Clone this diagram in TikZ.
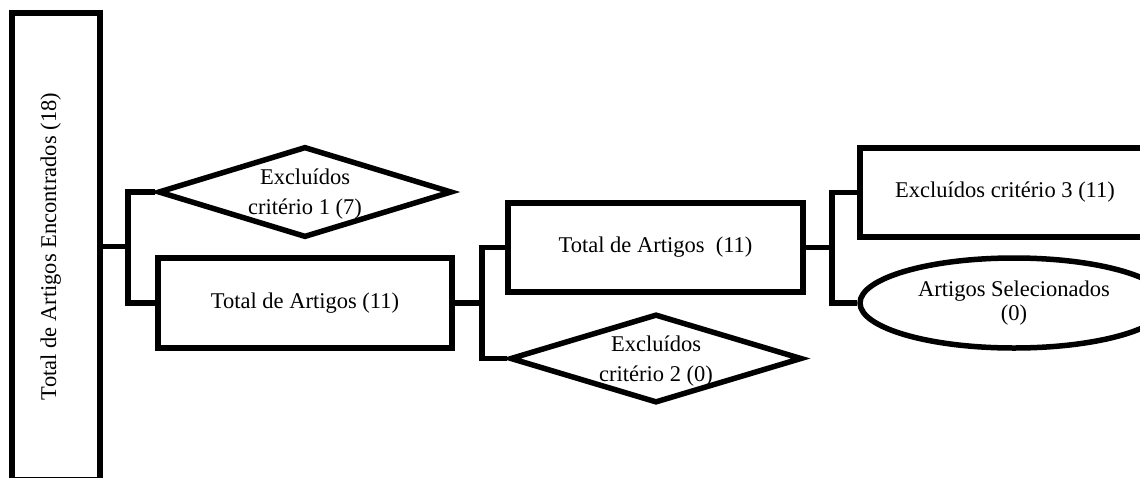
\documentclass[tikz,border=0pt]{standalone}
\usepackage{fontspec}
\setmainfont{Liberation Serif}
\usetikzlibrary{shapes.geometric}
\begin{document}
\begin{tikzpicture}[x=1pt,y=1pt,
  every node/.style={font=\fontsize{22.5}{30}\selectfont},
  box/.style={draw=black, line width=5.5pt, rectangle, inner sep=0pt, align=center},
  dia/.style={draw=black, line width=5.5pt, diamond, inner sep=0pt},
  oval/.style={draw=black, line width=5.5pt, ellipse, inner sep=0pt, align=center, font=\fontsize{22.5}{24}\selectfont},
  txt/.style={align=center, inner sep=0pt},
  link/.style={line width=5.5pt, line join=miter}
]
\useasboundingbox (0,0) rectangle (1140,-477);
\clip (0,0) rectangle (1140,-477);

% left tall box
\node[box, rotate=90, minimum width=467pt, minimum height=88pt, text height=12pt, text depth=12pt] (tot) at (56,-246.5) {Total de Artigos Encontrados (18)};

% first level
\node[dia, minimum width=294pt, minimum height=91pt,
      label={[txt, name=d1t, yshift=-2pt]center:Excluídos\\critério 1 (7)}] (d1) at (305,-192) {};
\node[box, minimum width=294pt, minimum height=90pt] (r1) at (305,-303) {Total de Artigos (11)};
\coordinate (j1) at (128,-246.5);
\draw[link] (tot.south) -- (j1);
\draw[link] (d1.west) -| (j1);
\draw[link] (r1.west) -| (j1);

% second level
\node[box, minimum width=295pt, minimum height=89pt] (r2) at (655.5,-247.5) {Total de Artigos~~(11)};
\node[dia, minimum width=292pt, minimum height=89pt,
      label={[txt, name=d2t, yshift=-3pt]center:Excluídos\\critério 2 (0)}] (d2) at (656,-358.5) {};
\coordinate (j2) at (482,-303);
\draw[link] (r1.east) -- (j2);
\draw[link] (r2.west) -| (j2);
\draw[link] (d2.west) -| (j2);

% third level
\node[box, minimum width=290pt, minimum height=89pt] (r3) at (1005,-192.5) {Excluídos critério 3 (11)};
\node[oval, minimum width=308pt, minimum height=90pt] (e) at (1014,-303) {Artigos Selecionados\\(0)};
\coordinate (j3) at (832,-247.5);
\draw[link] (r2.east) -- (j3);
\draw[link] (r3.west) -| (j3);
\draw[link] (e.west) -| (j3);
\end{tikzpicture}
\end{document}
